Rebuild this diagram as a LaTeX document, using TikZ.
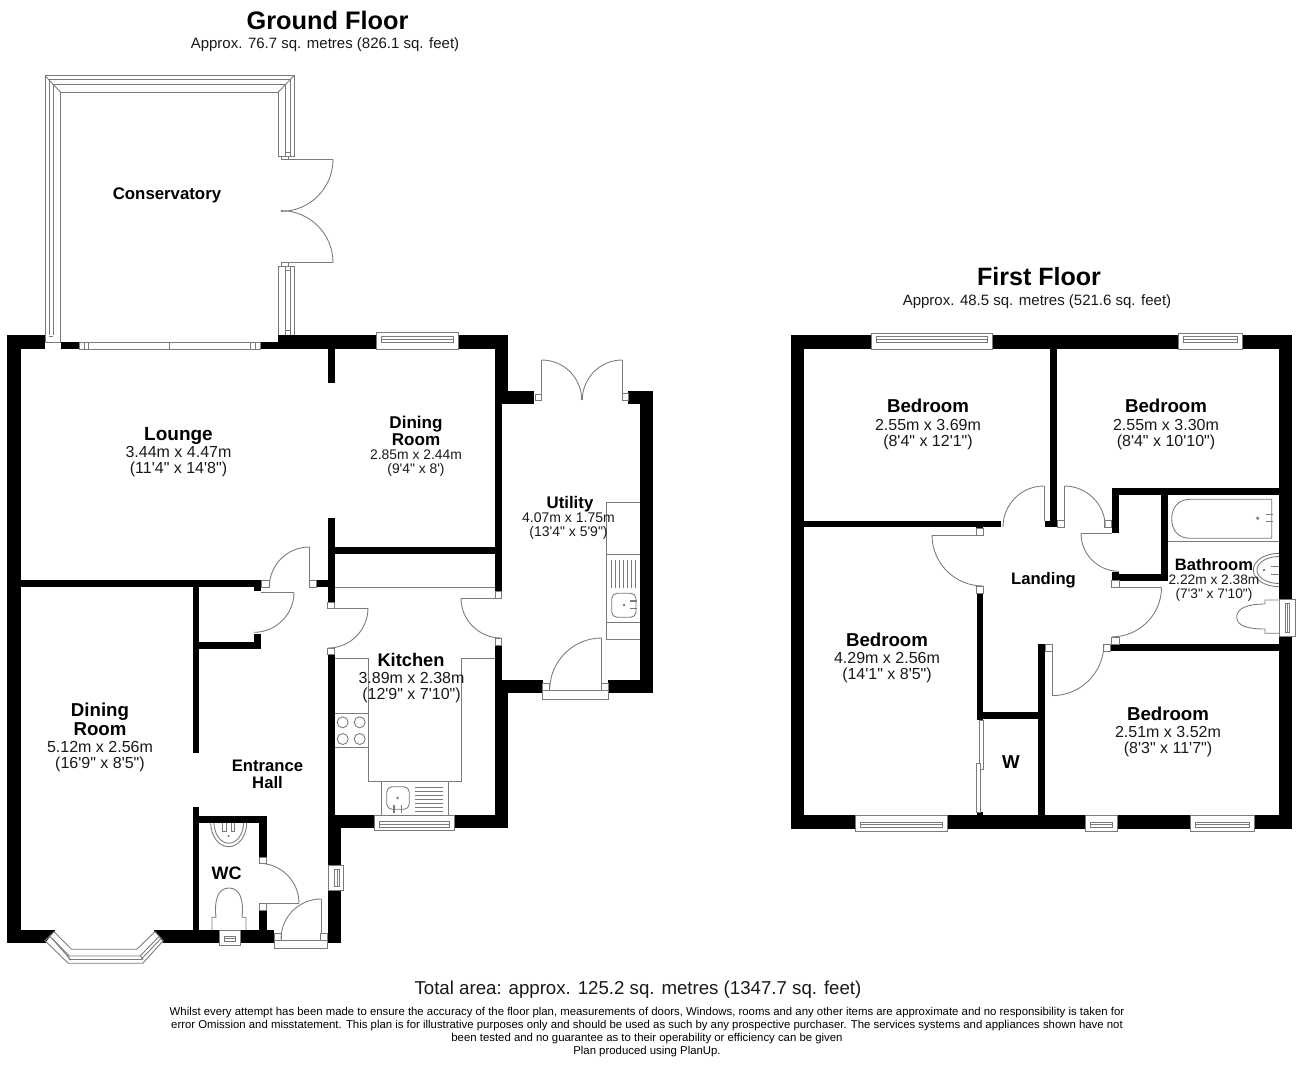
\documentclass[tikz,border=0pt]{standalone}
\usepackage{fontspec}
\newfontfamily\lib{Liberation Sans}
\definecolor{fxgray}{gray}{0.48}
\newcommand\wl[4]{\fill[black] (#1,#2) rectangle (#3,#4);}
\newcommand\bx[4]{\draw[fx,fill=white] (#1,#2) rectangle (#3,#4);}
\newcommand\hwin[6]{\bx{#1}{#2}{#3}{#4}\draw[fx] (#1+5,#5) rectangle (#3-5,#6) (#1+5,{(#5+#6)/2}) -- (#3-5,{(#5+#6)/2});}
\newcommand\vwin[6]{\bx{#1}{#2}{#3}{#4}\draw[fx] (#5,#2+4) rectangle (#6,#4-4) ({(#5+#6)/2},#2+4) -- ({(#5+#6)/2},#4-4);}
\newcommand\leaf[5]{\draw[fx] ({#1+#3*cos(#4)},{#2+#3*sin(#4)}) arc[start angle=#4,end angle=#5,radius=#3];}
\tikzset{
  fx/.style={draw=fxgray,line width=0.65pt},
  rn/.style={font=\lib\bfseries\fontsize{#1}{#1}\selectfont,inner sep=0pt,align=center},
  rd/.style={font=\lib\fontsize{#1}{#1}\selectfont,inner sep=0pt,align=center,text=black!90}
}
\begin{document}
\begin{tikzpicture}[x=0.75pt,y=-0.75pt]
\useasboundingbox (0,0) rectangle (1296,1065);
\fill[white] (0,0) rectangle (1296,1065);
% ---------- GROUND FLOOR: conservatory frame
\draw[fx] (45,342) -- (45,75.7) -- (294,75.7) -- (294,156.7) -- (278,156.7) -- (278,92.3) -- (60.7,92.3) -- (60.7,342);
\draw[fx] (49,335) -- (49,79.5) -- (290,79.5) -- (290,156.7);
\draw[fx] (53.3,335) -- (53.3,84) -- (285,84) -- (285,156.7);
\draw[fx] (45,75.7) -- (60.7,92.3) (294,75.7) -- (278,92.3);
\draw[fx] (278,335) -- (278,266.7) -- (294,266.7) -- (294,335);
\draw[fx] (285,266.7) -- (285,335) (290,266.7) -- (290,335) (285,330) -- (290,330) (285,270) -- (290,270) (285,152) -- (290,152);
\draw[fx] (49,336) -- (53.3,336);
\bx{281}{156.7}{288.7}{159.5}
\bx{281}{262.5}{288.7}{266.7}
\draw[fx] (281,159.4) -- (333,159.4) (281,262.6) -- (333,262.6);
\leaf{281}{159.4}{52}{0}{90}
\leaf{281}{262.6}{52}{0}{-90}
% ---------- GROUND FLOOR: walls
\wl{7}{335}{45}{349}
\wl{60.7}{342}{79}{349}
\wl{260}{342}{278}{349}
\wl{278}{335}{508}{349}
\wl{7}{335}{20.7}{943}
\wl{495}{335}{508}{404}
\wl{495}{390.7}{534}{404}
\wl{495}{404}{501.7}{592}
\wl{495}{645}{501.7}{690}
\wl{495}{680}{508}{828}
\wl{501.7}{680}{542.7}{693}
\wl{608}{680}{653.3}{693}
\wl{640}{390.7}{653.3}{693}
\wl{628.3}{390.7}{653.3}{404}
\wl{327.5}{349}{334.5}{383.3}
\wl{327.5}{518}{334.5}{602}
\wl{334}{546.7}{495}{553.5}
\wl{327.5}{654.5}{334.5}{943}
\wl{327.5}{815}{341}{943}
\wl{334}{815}{374.3}{828}
\wl{454}{815}{508}{828}
\wl{20}{580}{261.7}{587.3}
\wl{253.7}{580}{261}{590.7}
\wl{316}{580}{327.5}{587.3}
\wl{192.7}{587}{199.3}{753.3}
\wl{192.7}{641.7}{261}{648.7}
\wl{253.7}{634}{261}{648.7}
\wl{192.7}{806.7}{199.3}{930}
\wl{199}{815.7}{266.7}{822.7}
\wl{259}{822.7}{266.7}{857}
\wl{259}{910}{266.7}{943}
\wl{7}{930}{55}{943}
\wl{154}{930}{274}{943}
% boxes and doors
\draw[fx] (45,342) -- (60.7,342);
\bx{261.7}{580}{269.3}{587.3}
\bx{309.3}{580}{316}{587.3}
\draw[fx] (309.3,547) -- (309.3,580);
\leaf{309.3}{587}{40}{-90}{-180}
\draw[fx] (261,592.3) -- (294.3,592.3);
\leaf{254}{592.3}{40}{0}{90}
\bx{327.5}{602}{334.5}{608}
\bx{327.5}{648.3}{334.5}{654.5}
\draw[fx] (334.5,608) -- (368,608);
\leaf{328}{608}{40}{0}{90}
\bx{495}{591.7}{501.7}{598}
\bx{495}{638.3}{501.7}{645}
\draw[fx] (495,598) -- (461,598);
\leaf{501}{598}{40}{180}{90}
\bx{259}{857}{266.7}{863}
\bx{259}{903.3}{266.7}{910}
\draw[fx] (266.7,903.3) -- (298.8,903.3);
\leaf{259}{903.3}{40}{-90}{0}
\bx{274}{940}{327.7}{948.3}
\bx{274}{933.3}{281}{940}
\bx{320.7}{933.3}{327.7}{940}
\draw[fx] (321,899.3) -- (321,933.3);
\leaf{321}{939}{40}{-90}{-180}
\bx{535}{394}{541.7}{400.7}
\bx{622.3}{393}{628.3}{400.7}
\draw[fx] (541.7,394) -- (541.7,360) (622.3,393) -- (622.3,360);
\leaf{541.7}{400}{40}{-90}{0}
\leaf{622.3}{400}{40}{-90}{-180}
\bx{542.7}{690}{608}{699}
\bx{542.7}{683.3}{549.3}{690}
\bx{601.7}{683.3}{608}{690}
\draw[fx] (601.7,638) -- (601.7,683.3);
\leaf{601.7}{690}{52}{-90}{-180}
% windows
\bx{79}{342}{260}{349}
\draw[fx] (84,342) -- (84,349) (88.7,342) -- (88.7,349) (169.7,342) -- (169.7,349) (250,342) -- (250,349) (255,342) -- (255,349);
\hwin{376.7}{332.7}{458}{349}{336}{342.7}
\hwin{374.3}{815}{454}{830.7}{821.5}{827}
\vwin{328}{865}{343.7}{890.7}{334.5}{339.5}
\hwin{219.3}{930}{240}{945.3}{936}{941}
% bay window
\fill[white] (46,942) -- (54,931.7) -- (155,931.7) -- (163,942) -- (142.7,963.3) -- (68.3,963.3) -- cycle;
\draw[fx] (54,931.7) -- (71.7,949.3) -- (136.7,949.3) -- (155,931.7) -- (163.3,940.7) -- (142.7,963.3) -- (68.3,963.3) -- (45,940.7) -- cycle;
\draw[fx] (50,936.5) -- (69.5,956) -- (140,956) -- (159,936.5);
\draw[fx] (52,938.5) -- (70.5,959.5) -- (141,959.5) -- (161,938.5);
\draw[fx] (67,955) -- (70,960) (140,955) -- (143,960);
% kitchen fittings
\draw[fx] (334.5,587.3) -- (495,587.3);
\draw[fx] (334.5,658.3) -- (368.3,658.3) -- (368.3,781.7) -- (461.7,781.7) -- (461.7,658.3) -- (495,658.3);
\draw[fx] (334.5,713.3) -- (368.3,713.3) (334.5,747.3) -- (368.3,747.3);
\foreach \cx in {342.7,359.7}{\foreach \cy in {722.3,739}{\draw[fx] (\cx,\cy) circle[radius=5.5];}}
\draw[fx] (381,781.7) -- (381,815) (448.3,781.7) -- (448.3,815);
\draw[fx,rounded corners=4pt] (386.7,786.7) rectangle (409.3,809.3);
\draw[fx] (397.5,798) circle[radius=0.7];
\draw[fx,line width=1.1pt] (394,805) -- (394,813) (401.7,805) -- (401.7,813);
\foreach \ry in {787,791,795,799,803,807,811}{\draw[fx] (415,\ry) -- (443.3,\ry);}
% utility fittings
\draw[fx] (640,502.3) -- (606.7,502.3) -- (606.7,639.3) -- (640,639.3);
\draw[fx] (606.7,554.3) -- (640,554.3) (606.7,622.3) -- (640,622.3);
\foreach \rx in {611.7,615.7,619.7,623.7,627.7,631.7,635}{\draw[fx] (\rx,560) -- (\rx,588.3);}
\draw[fx,rounded corners=4pt] (611.7,593.3) rectangle (636,617.3);
\draw[fx] (624,605) circle[radius=0.7];
\draw[fx,line width=1.1pt] (630,601) -- (637,601) (630,608.3) -- (637,608.3);
% WC fittings
\draw[fx] (210.7,822.7) arc[start angle=180,end angle=0,x radius=18,y radius=24];
\draw[fx] (214,822.7) arc[start angle=180,end angle=0,x radius=14.8,y radius=20.5];
\draw[fx] (222.5,822.7) -- (222.5,831) -- (226,831) -- (226,822.7) (231,822.7) -- (231,831) -- (234.5,831) -- (234.5,822.7);
\draw[fx] (228.5,836) circle[radius=0.6];
\draw[fx] (212,930) -- (212,917.3) -- (216,917.3) .. controls (214,900) and (218,888) .. (229,888) .. controls (240,888) and (244,900) .. (242,917.3) -- (246,917.3) -- (246,930);
% ---------- FIRST FLOOR: walls
\wl{790.7}{335}{1292.3}{349}
\wl{790.7}{335}{804.3}{829.3}
\wl{1279}{335}{1292.3}{829.3}
\wl{790.7}{815}{1292.3}{829.3}
\wl{1050}{349}{1057.3}{527.3}
\wl{1045}{520.7}{1057.3}{527.3}
\wl{804}{520.7}{1001}{527.3}
\wl{976}{527}{983.3}{531}
\wl{976.5}{593}{983.3}{720}
\wl{976.5}{711.7}{1044}{719}
\wl{1037.7}{644}{1045}{825}
\wl{1110}{644}{1279}{651}
\wl{1111.7}{488.3}{1279}{495}
\wl{1111.7}{488.3}{1119}{532.5}
\wl{1160.7}{488.3}{1167.7}{581}
\wl{1111.7}{571.7}{1119}{581}
\wl{1111.7}{574}{1167.7}{581}
\wl{976.7}{812}{983.3}{815}
% first floor doors
\bx{1057.3}{520.7}{1064.3}{527.3}
\bx{976}{528.3}{983.3}{535}
\bx{976}{586.7}{983.3}{593}
\bx{1104.3}{520.7}{1111.7}{527.3}
\bx{1111.7}{580.7}{1119}{587.3}
\bx{1111.7}{637.7}{1119}{644}
\bx{1045}{644}{1052.3}{651}
\bx{1103.3}{644}{1110}{651}
\draw[fx] (1044,486) -- (1044,520.7) (1064.3,486) -- (1064.3,520.7);
\leaf{1044}{527}{41}{-90}{-180}
\leaf{1064.3}{527}{41}{-90}{0}
\draw[fx] (976,535) -- (932,535);
\leaf{983}{535}{51}{180}{90}
\draw[fx] (1111.7,533.3) -- (1081,533.3);
\leaf{1119}{533.3}{38}{180}{90}
\draw[fx] (1119,587.3) -- (1161,587.3);
\leaf{1112}{587.3}{49.5}{0}{90}
\draw[fx] (1052.3,651) -- (1052.3,695.7);
\leaf{1052.3}{644}{51.6}{90}{0}
% wardrobe sliders
\bx{979.3}{720}{983.3}{769.3}
\bx{976.7}{763.3}{980}{812.7}
% first floor windows
\hwin{871.7}{333.3}{992.3}{349}{336.7}{342.3}
\hwin{1178.3}{333.3}{1242.7}{349}{336.7}{342.3}
\hwin{855.7}{815}{947.3}{831}{822.3}{827.3}
\hwin{1085.7}{815}{1117.7}{831}{822.3}{827.3}
\hwin{1190}{815}{1254.7}{831}{822.3}{827.3}
\vwin{1279}{599}{1295}{636}{1285}{1289.5}
% bathroom fittings
\draw[fx] (1271.7,499.3) -- (1190,499.3) .. controls (1178,499.3) and (1171.7,508) .. (1171.7,518.8) .. controls (1171.7,530) and (1178,538.3) .. (1190,538.3) -- (1271.7,538.3) -- cycle;
\draw[fx] (1167.7,541.7) -- (1279,541.7);
\draw[fx] (1257.7,518.3) circle[radius=1.2];
\draw[fx,line width=1.1pt] (1266,514.3) -- (1273,514.3) (1266,521.7) -- (1273,521.7);
\draw[fx] (1279,553.3) arc[start angle=270,end angle=90,x radius=25.7,y radius=16.7];
\draw[fx] (1279,556.5) arc[start angle=270,end angle=90,x radius=22,y radius=13.5];
\draw[fx] (1271,566) -- (1279,566) (1271,574) -- (1279,574);
\draw[fx] (1264,570) circle[radius=0.8];
\draw[fx] (1279,600) -- (1265,600) -- (1265,604) .. controls (1248,604) and (1236.7,608) .. (1236.7,617) .. controls (1236.7,626) and (1248,629) .. (1265,629) -- (1265,633.3) -- (1279,633.3);
% ---------- texts
\node[rn=19] (gftitle) at (327.5,20) {Ground Floor};
\node[rd=11.25] (gfarea) at (325,44.5) {Approx. 76.7 sq. metres (826.1 sq. feet)};
\node[rn=18.8] (fftitle) at (1039,276.5) {First Floor};
\node[rd=11.25] (ffarea) at (1037,301.5) {Approx. 48.5 sq. metres (521.6 sq. feet)};
\node[rn=12.6] (cons) at (167,195) {Conservatory};
\node[rn=14.25] (lounge) at (178.5,436) {Lounge};
\node[rd=12] (loungedim) at (178.5,461.5) {3.44m x 4.47m\\(11'4" x 14'8")};
\node[rn=12.8] (din1) at (416,430.5) {Dining\\Room};
\node[rd=10.4] (din1dim) at (416,463) {2.85m x 2.44m\\(9'4" x 8')};
\node[rn=12.6] (util) at (570,504) {Utility};
\node[rd=10.5] (utildim) at (568.5,526) {4.07m x 1.75m\\(13'4" x 5'9")};
\node[rn=13.7] (kit) at (411,660) {Kitchen};
\node[rd=12] (kitdim) at (411.5,687.5) {3.89m x 2.38m\\(12'9" x 7'10")};
\node[rn=14] (din2) at (100,719) {Dining\\Room};
\node[rd=12] (din2dim) at (100,757) {5.12m x 2.56m\\(16'9" x 8'5")};
\node[rn=12.5] (hall) at (267.5,774.5) {Entrance\\Hall};
\node[rn=13.5] (wc) at (226.5,873) {WC};
\node[rn=14] (bed1) at (928,406) {Bedroom};
\node[rd=12] (bed1dim) at (928,435) {2.55m x 3.69m\\(8'4" x 12'1")};
\node[rn=14] (bed2) at (1166,406) {Bedroom};
\node[rd=12] (bed2dim) at (1166,435) {2.55m x 3.30m\\(8'4" x 10'10")};
\node[rn=12.5] (land) at (1043.5,580) {Landing};
\node[rn=12.4] (bath) at (1214,565) {Bathroom};
\node[rd=10.3] (bathdim) at (1214,588) {2.22m x 2.38m\\(7'3" x 7'10")};
\node[rn=14] (bed3) at (887,639.5) {Bedroom};
\node[rd=12] (bed3dim) at (887,667.5) {4.29m x 2.56m\\(14'1" x 8'5")};
\node[rn=14] (bed4) at (1168,713.5) {Bedroom};
\node[rd=12] (bed4dim) at (1168,742) {2.51m x 3.52m\\(8'3" x 11'7")};
\node[rn=14] (ward) at (1011,762) {W};
\node[rd=14] (total) at (638,990) {Total area: approx. 125.2 sq. metres (1347.7 sq. feet)};
\node[font=\lib\fontsize{8.53}{9.75}\selectfont,inner sep=0pt,align=center] (disc) at (647,1032) {Whilst every attempt has been made to ensure the accuracy of the floor plan, measurements of doors, Windows, rooms and any other items are approximate and no responsibility is taken for\\error Omission and misstatement. This plan is for illustrative purposes only and should be used as such by any prospective purchaser. The services systems and appliances shown have not\\been tested and no guarantee as to their operability or efficiency can be given\\Plan produced using PlanUp.};
\end{tikzpicture}
\end{document}
